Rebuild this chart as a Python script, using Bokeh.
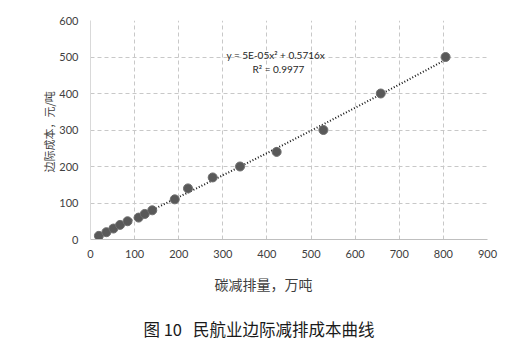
from bokeh.plotting import figure
from bokeh.models import FixedTicker, Label, Title, Range1d
from bokeh.embed import file_html
from bokeh.resources import INLINE
import numpy as np

# data
abatement = [19, 36, 52, 67, 84, 109, 123, 140, 191, 221, 277, 339, 422, 528, 658, 805]
marginal_cost = [10, 20, 30, 40, 50, 60, 70, 80, 110, 140, 170, 200, 240, 300, 400, 500]
fit_a = 5e-05
fit_b = 0.5716
eq_text = "y = 5E-05x² + 0.5716x"
r2_text = "R² = 0.9977"
x_ticks = [0, 100, 200, 300, 400, 500, 600, 700, 800, 900]
y_ticks = [0, 100, 200, 300, 400, 500, 600]
x_label = "碳减排量，万吨"
y_label = "边际成本，元/吨"
caption = "图 10\u00a0\u00a0\u00a0民航业边际减排成本曲线"

NUM_FONT = "Lato"
CJK_FONT = "Noto Sans CJK SC"

p = figure(width=516, height=354, output_backend="svg", toolbar_location=None,
           x_range=Range1d(0, 900), y_range=Range1d(0, 600),
           min_border_left=90, min_border_right=29, min_border_top=20, min_border_bottom=115)
p.outline_line_color = None
p.background_fill_color = "white"
p.border_fill_color = "white"

for ax, ticks in ((p.xaxis[0], x_ticks), (p.yaxis[0], y_ticks)):
    ax.ticker = FixedTicker(ticks=ticks)
    ax.major_tick_line_color = None
    ax.minor_tick_line_color = None
    ax.major_tick_out = 0
    ax.major_tick_in = 0
    ax.major_label_text_font = NUM_FONT
    ax.major_label_text_font_size = "11px"
    ax.major_label_text_color = "#404040"

p.xaxis.axis_line_color = "#bfbfbf"
p.yaxis.axis_line_color = "#d9d9d9"
p.xaxis.major_label_standoff = 10
p.yaxis.major_label_standoff = 12

p.grid.grid_line_color = "#c8c8c8"
p.grid.grid_line_dash = "4 3"
p.grid.grid_line_width = 1
p.xgrid.ticker = FixedTicker(ticks=x_ticks)
p.ygrid.ticker = FixedTicker(ticks=y_ticks)

# trend line from the fitted coefficients
xs = np.linspace(min(abatement), max(abatement), 200)
ys = fit_a * xs ** 2 + fit_b * xs
p.line(xs, ys, line_color="#1a1a1a", line_width=2, line_dash="1 2")

p.scatter(abatement, marginal_cost, size=9, fill_color="#595959", line_color="#6e6e6e",
          line_width=1)

p.add_layout(Label(x=420, y=505, text=eq_text, text_align="center", text_baseline="middle",
                   text_font=NUM_FONT, text_font_size="10px", text_color="#262626"))
p.add_layout(Label(x=426, y=468, text=r2_text, text_align="center", text_baseline="middle",
                   text_font=NUM_FONT, text_font_size="10px", text_color="#262626"))

# axis titles and caption as titles placed beside the frame
p.add_layout(Title(text=x_label, align="left", offset=124, text_font=CJK_FONT,
                   text_font_size="14px", text_font_style="normal", text_color="#404040",
                   standoff=23), "below")
p.add_layout(Title(text=caption, align="left", offset=53, text_font=CJK_FONT,
                   text_font_size="16.5px", text_font_style="normal", text_color="#1a1a1a",
                   standoff=18), "below")
p.add_layout(Title(text=y_label, align="left", offset=67, text_font=CJK_FONT,
                   text_font_size="11px", text_font_style="normal", text_color="#404040",
                   standoff=0), "left")

open("out.html", "w").write(file_html(p, INLINE))
